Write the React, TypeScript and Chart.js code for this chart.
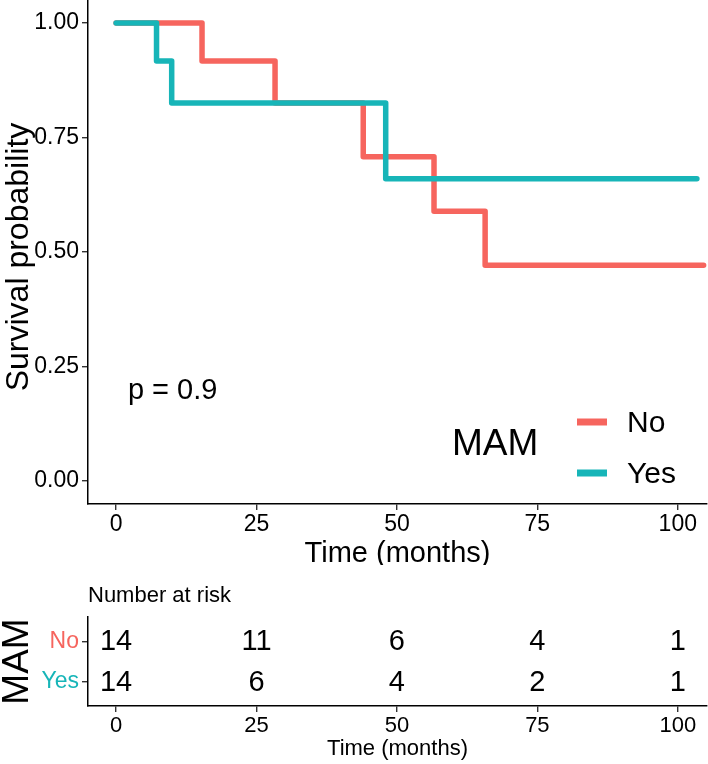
import React, { useEffect, useRef } from "react";
import { Chart, registerables } from "chart.js";

Chart.register(...registerables);

const FONT = "'Liberation Sans', Arial, Helvetica, sans-serif";
const RED = "#F6655E";
const CYAN = "#17B5B8";

// Kaplan-Meier step data
const noTimes = [0, 15.3, 28.3, 44.0, 56.6, 65.7, 104.6];
const noSurv = [1, 0.917, 0.825, 0.708, 0.589, 0.471, 0.471];
const yesTimes = [0, 7.2, 9.9, 48.0, 103.4];
const yesSurv = [1, 0.917, 0.825, 0.66, 0.66];

// axes
const xTicks = [0, 25, 50, 75, 100];
const yTicks = [0, 0.25, 0.5, 0.75, 1];
const groupLabels = ["No", "Yes"];
const groupColors = [RED, CYAN];

// risk table
const riskTimes = [0, 25, 50, 75, 100];
const riskNo = [14, 11, 6, 4, 1];
const riskYes = [14, 6, 4, 2, 1];

// annotation
const pValueText = "p = 0.9";
const pValueAt = [2.1, 0.196];

const X_MIN = -5;
const X_MAX = 105.2;

function xScale(height: number, tickSize: number) {
  return {
    type: "linear" as const,
    min: X_MIN,
    max: X_MAX,
    afterBuildTicks: (s: any) => {
      s.ticks = xTicks.map((v) => ({ value: v }));
    },
    afterFit: (s: any) => {
      s.height = height;
      s.paddingLeft = 0;
      s.paddingRight = 0;
      s.paddingTop = 0;
      s.paddingBottom = 0;
    },
    ticks: {
      font: { family: FONT, size: tickSize },
      color: "#000",
      padding: 1,
      maxRotation: 0,
      autoSkip: false,
      callback: (v: any) => String(v),
    },
    grid: {
      drawOnChartArea: false,
      drawTicks: true,
      tickLength: 6,
      color: "#333",
      lineWidth: 1.4,
    },
    border: { display: true, color: "#000", width: 1.5 },
  };
}

function yAxisBase(width: number) {
  return {
    afterFit: (s: any) => {
      s.width = width;
      s.paddingLeft = 0;
      s.paddingRight = 0;
      s.paddingTop = 0;
      s.paddingBottom = 0;
    },
    grid: {
      drawOnChartArea: false,
      drawTicks: true,
      tickLength: 6,
      color: "#333",
      lineWidth: 1.4,
    },
    border: { display: true, color: "#000", width: 1.5 },
  };
}

const survDeco = {
  id: "survDeco",
  afterDraw(chart: any) {
    const { ctx, chartArea, scales } = chart;
    ctx.save();
    ctx.fillStyle = "#000";

    // y title
    ctx.save();
    ctx.translate(28, 257);
    ctx.rotate(-Math.PI / 2);
    ctx.textAlign = "center";
    ctx.textBaseline = "alphabetic";
    ctx.font = `32px ${FONT}`;
    ctx.fillText("Survival probability", 0, 0);
    ctx.restore();

    ctx.textBaseline = "middle";
    // x title
    ctx.textAlign = "center";
    ctx.font = `29px ${FONT}`;
    ctx.fillText("Time (months)", (chartArea.left + chartArea.right) / 2, 554);

    // p-value
    ctx.textAlign = "left";
    ctx.font = `29px ${FONT}`;
    ctx.fillText(
      pValueText,
      scales.x.getPixelForValue(pValueAt[0]),
      scales.y.getPixelForValue(pValueAt[1])
    );

    // legend
    ctx.font = `37px ${FONT}`;
    ctx.textAlign = "left";
    ctx.fillText("MAM", 452, 445);
    const keyY = [422, 473];
    groupLabels.forEach((lab, i) => {
      ctx.strokeStyle = groupColors[i];
      ctx.lineWidth = 7;
      ctx.lineCap = "butt";
      ctx.beginPath();
      ctx.moveTo(577, keyY[i]);
      ctx.lineTo(607, keyY[i]);
      ctx.stroke();
      ctx.fillStyle = "#000";
      ctx.font = `30px ${FONT}`;
      ctx.fillText(lab, 627, keyY[i] + 2);
    });
    ctx.restore();
  },
};

const riskDeco = {
  id: "riskDeco",
  afterDatasetsDraw(chart: any) {
    const { ctx, chartArea } = chart;
    ctx.save();
    ctx.fillStyle = "#000";
    ctx.textBaseline = "middle";
    ctx.textAlign = "center";
    ctx.font = `29px ${FONT}`;
    chart.data.datasets.forEach((ds: any, di: number) => {
      const meta = chart.getDatasetMeta(di);
      meta.data.forEach((el: any, i: number) => {
        ctx.fillText(String(ds.counts[i]), el.x, el.y + 1);
      });
    });

    // header
    ctx.textAlign = "left";
    ctx.font = `22px ${FONT}`;
    ctx.fillText("Number at risk", chartArea.left, 31);

    // x title
    ctx.textAlign = "center";
    ctx.font = `22px ${FONT}`;
    ctx.fillText("Time (months)", (chartArea.left + chartArea.right) / 2, 184);

    // rotated group title
    ctx.save();
    ctx.translate(18, (chartArea.top + chartArea.bottom) / 2);
    ctx.rotate(-Math.PI / 2);
    ctx.font = `37px ${FONT}`;
    ctx.fillText("MAM", 0, 0);
    ctx.restore();
    ctx.restore();
  },
};

export default function App() {
  const survRef = useRef<HTMLCanvasElement>(null);
  const riskRef = useRef<HTMLCanvasElement>(null);

  useEffect(() => {
    const survChart = new Chart(survRef.current!, {
      type: "line",
      data: {
        datasets: [
          {
            label: "Yes",
            data: yesTimes.map((t, i) => ({ x: t, y: yesSurv[i] })),
            borderColor: CYAN,
            backgroundColor: CYAN,
            borderWidth: 5.5,
            stepped: "before",
            pointRadius: 0,
            borderCapStyle: "round",
            borderJoinStyle: "round",
            fill: false,
          },
          {
            label: "No",
            data: noTimes.map((t, i) => ({ x: t, y: noSurv[i] })),
            borderColor: RED,
            backgroundColor: RED,
            borderWidth: 5.5,
            stepped: "before",
            pointRadius: 0,
            borderCapStyle: "round",
            borderJoinStyle: "round",
            fill: false,
          },
        ],
      },
      options: {
        animation: false,
        responsive: false,
        devicePixelRatio: 1,
        layout: { padding: { left: 0, right: 1, top: 0, bottom: 0 }, autoPadding: false },
        plugins: { legend: { display: false }, tooltip: { enabled: false } },
        scales: {
          x: xScale(61, 23) as any,
          y: {
            type: "linear",
            min: -0.05,
            max: 1.05,
            ...yAxisBase(88),
            afterBuildTicks: (s: any) => {
              s.ticks = yTicks.map((v) => ({ value: v }));
            },
            ticks: {
              font: { family: FONT, size: 23 },
              color: "#000",
              padding: 3,
              callback: (v: any) => Number(v).toFixed(2),
            },
          } as any,
        },
      },
      plugins: [survDeco],
    });

    const riskChart = new Chart(riskRef.current!, {
      type: "scatter",
      data: {
        datasets: [
          {
            label: "No",
            data: riskTimes.map((t) => ({ x: t, y: 2 })),
            counts: riskNo,
            pointRadius: 0,
          } as any,
          {
            label: "Yes",
            data: riskTimes.map((t) => ({ x: t, y: 1 })),
            counts: riskYes,
            pointRadius: 0,
          } as any,
        ],
      },
      options: {
        animation: false,
        responsive: false,
        devicePixelRatio: 1,
        layout: { padding: { left: 0, right: 1, top: 52, bottom: 0 }, autoPadding: false },
        plugins: { legend: { display: false }, tooltip: { enabled: false } },
        scales: {
          x: xScale(58, 22) as any,
          y: {
            type: "linear",
            min: 0.4,
            max: 2.6,
            ...yAxisBase(88),
            afterBuildTicks: (s: any) => {
              s.ticks = [1, 2].map((v) => ({ value: v }));
            },
            ticks: {
              font: { family: FONT, size: 23 },
              color: (c: any) => (c.tick && c.tick.value === 2 ? RED : CYAN),
              padding: 3,
              callback: (v: any) => (v === 2 ? groupLabels[0] : groupLabels[1]),
            },
          } as any,
        },
      },
      plugins: [riskDeco],
    });

    return () => {
      survChart.destroy();
      riskChart.destroy();
    };
  }, []);

  return (
    <div style={{ position: "absolute", left: 0, top: 0, width: 708, height: 764, background: "#fff" }}>
      <canvas ref={survRef} width={708} height={565} style={{ position: "absolute", left: 0, top: 0, display: "block" }} />
      <canvas ref={riskRef} width={708} height={199} style={{ position: "absolute", left: 0, top: 565, display: "block" }} />
    </div>
  );
}
